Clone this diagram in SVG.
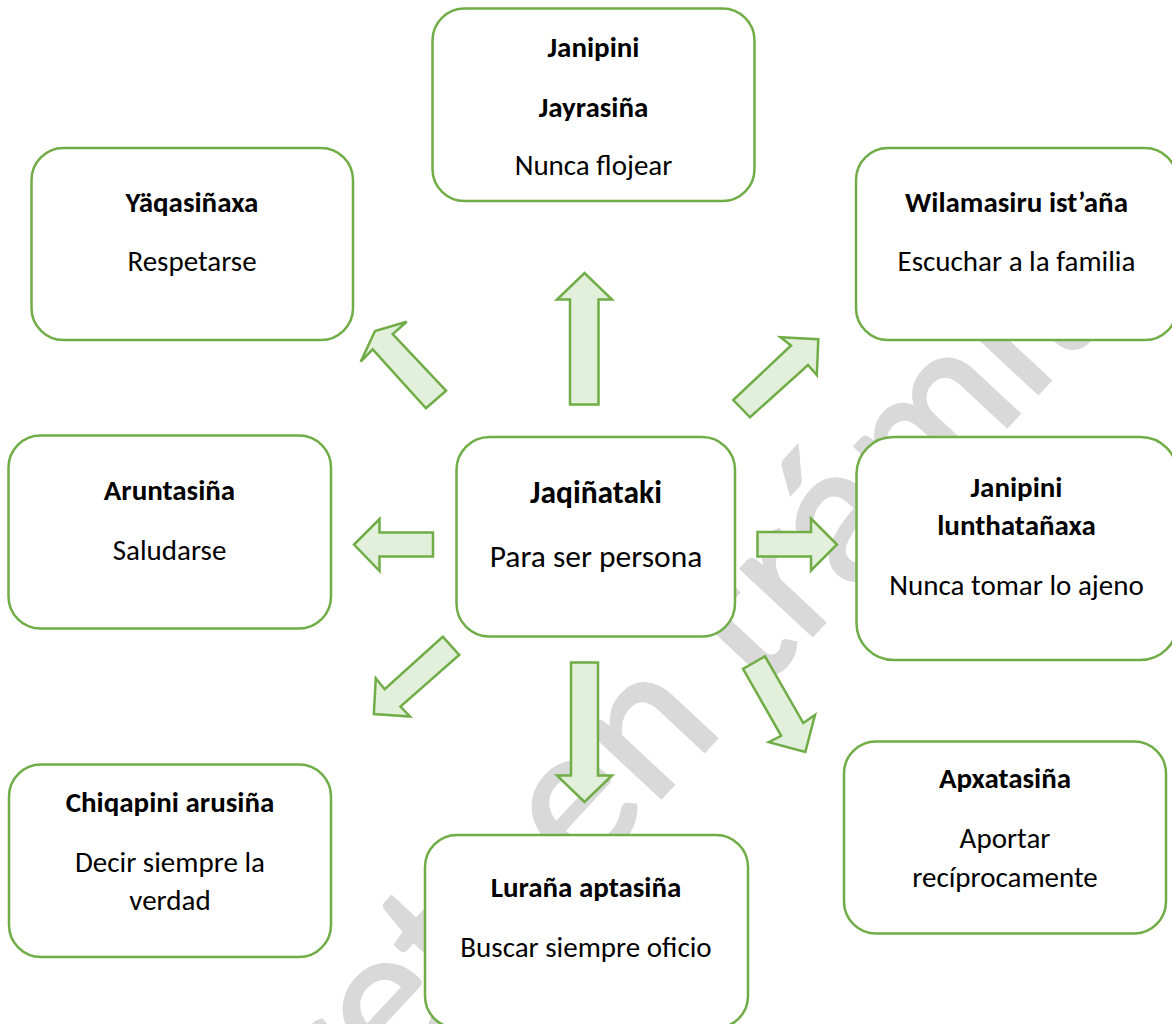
<svg xmlns="http://www.w3.org/2000/svg" width="1172" height="1024" viewBox="0 0 1172 1024">
  <style>
    .box { fill: #ffffff; stroke: #70ad47; stroke-width: 2.5; }
    .arrow { fill: #e2efda; stroke: #70ad47; stroke-width: 2.5; stroke-linejoin: miter; }
    text { font-family: Calibri, Carlito, Lato, sans-serif; fill: #000000; text-anchor: middle; }
    .t { font-size: 29px; }
    .b { font-size: 29px; font-weight: bold; }
    .tc { font-size: 31.5px; }
    .bc { font-size: 31.5px; font-weight: bold; }
    .wm { font-size: 205px; fill: #d9d9d9; stroke: #d9d9d9; stroke-width: 3; text-anchor: start; }
  </style>

  <rect width="1172" height="1024" fill="#ffffff"/>

  <!-- watermark, drawn first so the boxes and arrows sit on top -->
  <text class="wm" x="131.7" y="1365.6" transform="rotate(-47 131.7 1365.6)">Decreto <tspan dx="-45">en trámite</tspan></text>

  <!-- block arrows radiating from the centre box -->
  <g id="connectors">
    <polygon class="arrow" points="570,404.5 570,299.5 557,299.5 584.5,273 612,299.5 598.5,299.5 598.5,404.5"/>
    <polygon class="arrow" points="571,662.5 598,662.5 598,775.5 612,775.5 584.5,802 557,775.5 571,775.5"/>
    <polygon class="arrow" points="433,532.5 379.5,532.5 379.5,519 354,544.5 379.5,571 379.5,556.5 433,556.5"/>
    <polygon class="arrow" points="757.5,532 811,532 811,518.5 837,544.5 811,570.5 811,556.5 757.5,556.5"/>
    <polygon class="arrow" points="446,390.7 426,408.3 372.7,349.3 360.7,361.7 375,331 406.7,321.7 392.7,334"/>
    <polygon class="arrow" points="733.3,400 791,345.5 780.5,337.3 818.3,339.2 816.8,375 808,365 750,417.3"/>
    <polygon class="arrow" points="442.7,636.7 459.2,655 400.5,706.5 410,716.5 373.8,714 375.8,678.3 384.7,689.3"/>
    <polygon class="arrow" points="743,668.8 765,656.3 803.3,723 815,715 805.3,752 768.8,742.2 781.2,735.8"/>
  </g>

  <g id="node-jayrasina">
    <rect class="box" x="432.5" y="8.5" width="322" height="192.5" rx="32"/>
    <text class="b" x="593.5" y="57">Janipini</text>
    <text class="b" x="593.5" y="117">Jayrasiña</text>
    <text class="t" x="593.5" y="175">Nunca flojear</text>
  </g>

  <g id="node-yaqasinaxa">
    <rect class="box" x="31.5" y="148" width="321.5" height="192" rx="32"/>
    <text class="b" x="192" y="212">Yäqasiñaxa</text>
    <text class="t" x="192" y="271">Respetarse</text>
  </g>

  <g id="node-wilamasiru">
    <rect class="box" x="856" y="148" width="321" height="192" rx="32"/>
    <text class="b" x="1016.5" y="212">Wilamasiru ist’aña</text>
    <text class="t" x="1016.5" y="271">Escuchar a la familia</text>
  </g>

  <g id="node-jaqinataki">
    <rect class="box" x="456.5" y="437" width="278.5" height="199.5" rx="33"/>
    <text class="bc" x="596" y="503">Jaqiñataki</text>
    <text class="tc" x="596" y="567">Para ser persona</text>
  </g>

  <g id="node-aruntasina">
    <rect class="box" x="8.5" y="435.5" width="322.5" height="193" rx="32"/>
    <text class="b" x="169.5" y="500">Aruntasiña</text>
    <text class="t" x="169.5" y="560">Saludarse</text>
  </g>

  <g id="node-lunthatanaxa">
    <rect class="box" x="856.5" y="437" width="321" height="223" rx="37"/>
    <text class="b" x="1016.5" y="497">Janipini</text>
    <text class="b" x="1016.5" y="535">lunthatañaxa</text>
    <text class="t" x="1016.5" y="595">Nunca tomar lo ajeno</text>
  </g>

  <g id="node-chiqapini">
    <rect class="box" x="9" y="764.5" width="322" height="192.5" rx="32"/>
    <text class="b" x="170" y="812">Chiqapini arusiña</text>
    <text class="t" x="170" y="872">Decir siempre la</text>
    <text class="t" x="170" y="910">verdad</text>
  </g>

  <g id="node-lurana">
    <rect class="box" x="425" y="835" width="323" height="193" rx="32"/>
    <text class="b" x="586" y="897">Luraña aptasiña</text>
    <text class="t" x="586" y="957">Buscar siempre oficio</text>
  </g>

  <g id="node-apxatasina">
    <rect class="box" x="844" y="741.5" width="322" height="192" rx="32"/>
    <text class="b" x="1005" y="788">Apxatasiña</text>
    <text class="t" x="1005" y="848">Aportar</text>
    <text class="t" x="1005" y="887">recíprocamente</text>
  </g>
</svg>
